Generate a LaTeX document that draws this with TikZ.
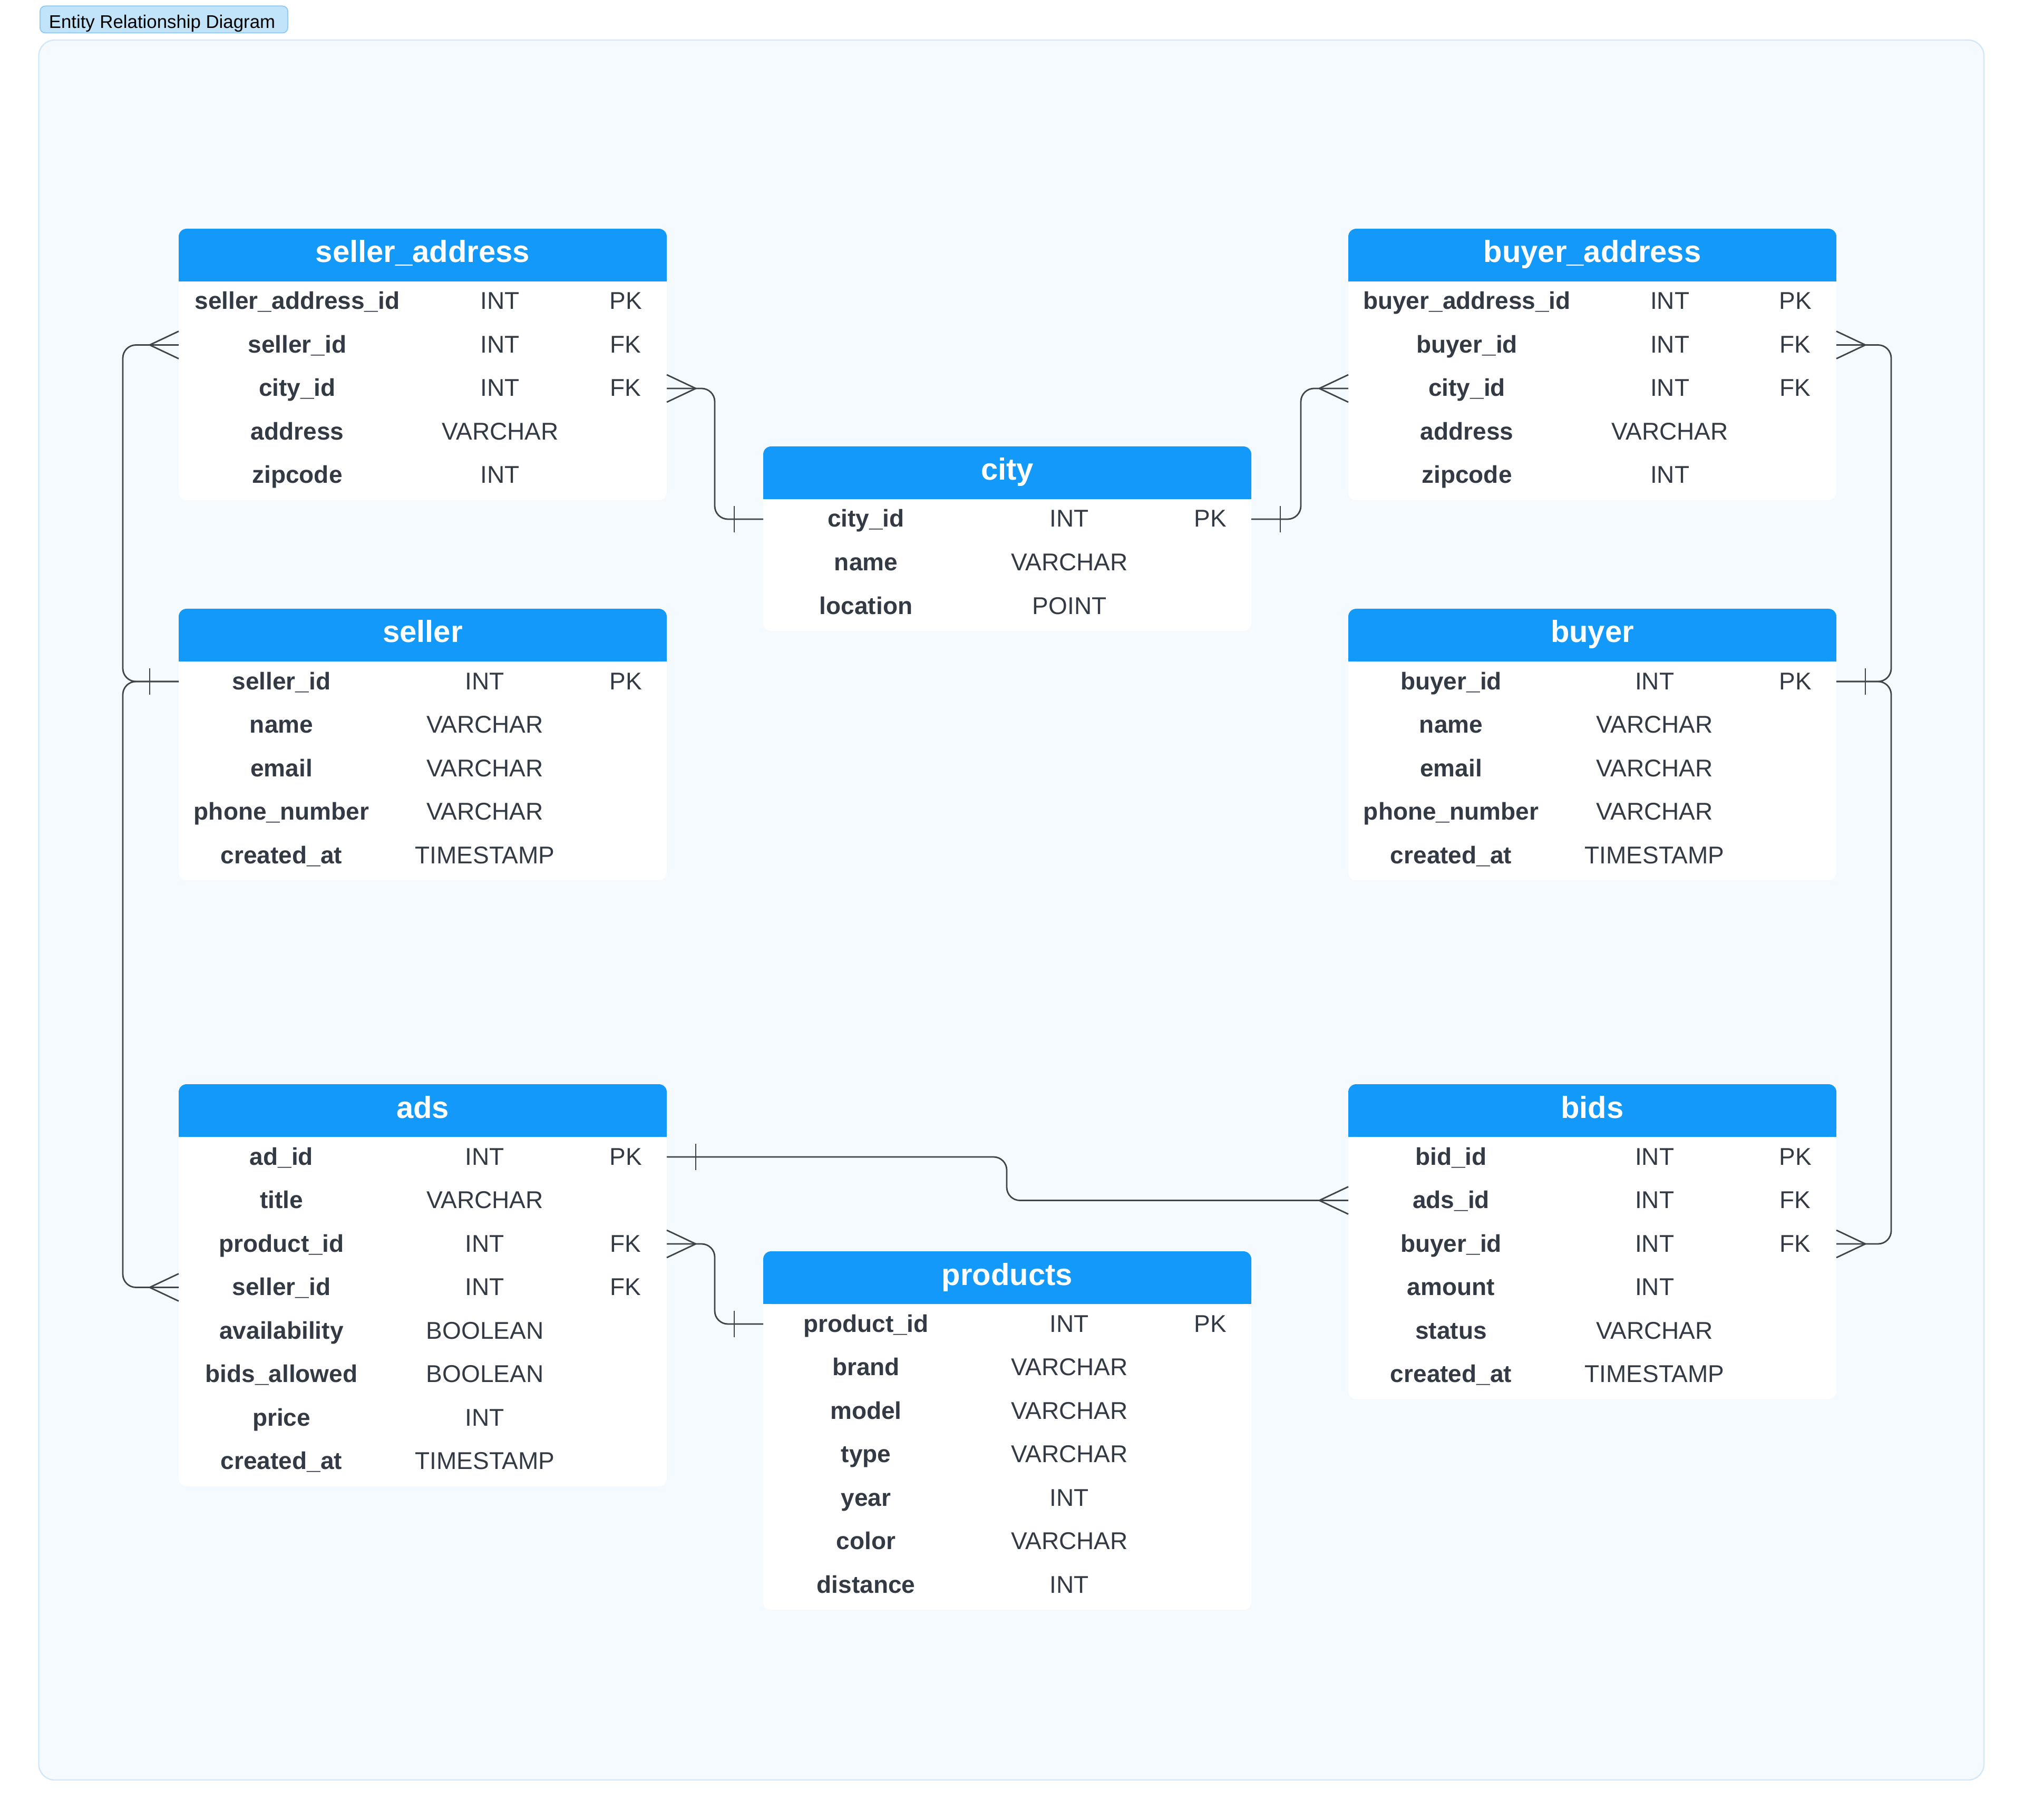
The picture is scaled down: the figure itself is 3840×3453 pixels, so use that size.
\documentclass[tikz,border=0pt]{standalone}
\usepackage{fontspec}
\setmainfont{Liberation Sans}
\usetikzlibrary{calc}
\definecolor{hdrblue}{HTML}{1399F9}
\definecolor{txt}{HTML}{333A44}
\definecolor{conncol}{HTML}{3E444C}
\definecolor{panelfill}{HTML}{F5FAFE}
\definecolor{panelline}{HTML}{D2E7F8}
\definecolor{tagfill}{HTML}{C1E4FB}
\definecolor{tagline}{HTML}{94CCF4}
\tikzset{
  hdrtext/.style={text=white, font=\fontsize{14.5}{17}\selectfont\bfseries, anchor=base, inner sep=0pt},
  rowbox/.style={minimum width=231.5pt, minimum height=20pt, inner sep=0pt, outer sep=0pt, draw=none},
  nametext/.style={text=txt, font=\fontsize{11.5}{13}\selectfont\bfseries, anchor=base, inner sep=0pt},
  typetext/.style={text=txt, font=\fontsize{11.5}{13}\selectfont, anchor=base, inner sep=0pt},
  conn/.style={draw=conncol, line width=0.7pt, line join=round},
  tagtext/.style={text=black, font=\fontsize{8.7}{10}\selectfont, anchor=base west, inner sep=0pt},
}
\newcommand\ERtable[8]{%
  \pgfmathsetmacro\ERbot{#3+138+(#5-1)*82.5+47}
  \fill[white, rounded corners=3.75pt] (#2,#3) rectangle ({#2+926},\ERbot);
  \fill[hdrblue, rounded corners=3.75pt] (#2,#3) rectangle ({#2+926},{#3+100});
  \fill[hdrblue] (#2,{#3+50}) rectangle ({#2+926},{#3+100});
  \node[hdrtext] (#1) at ({#2+463},{#3+64}) {#4};
  \foreach \cn/\cy/\ck [count=\i] in {#8} {
    \pgfmathsetmacro\ERy{#3+138+(\i-1)*82.5}
    \node[rowbox] (#1-\i) at ({#2+463},\ERy) {};
    \node[nametext] (#1-n\i) at ({#2+#6},{\ERy+15}) {\cn};
    \node[typetext] (#1-t\i) at ({#2+#7},{\ERy+15}) {\cy};
    \node[typetext] (#1-k\i) at ({#2+848},{\ERy+15}) {\ck};
  }
}
\newcommand\crowW[1]{\draw[conn] ($(#1)+(0,-26)$) -- ($(#1)+(-55,0)$) -- ($(#1)+(0,26)$);}
\newcommand\crowE[1]{\draw[conn] ($(#1)+(0,-26)$) -- ($(#1)+(55,0)$) -- ($(#1)+(0,26)$);}
\newcommand\barW[1]{\draw[conn] ($(#1)+(-55,-25)$) -- ($(#1)+(-55,25)$);}
\newcommand\barE[1]{\draw[conn] ($(#1)+(55,-25)$) -- ($(#1)+(55,25)$);}
\begin{document}
\begin{tikzpicture}[x=0.25pt,y=-0.25pt]
  \useasboundingbox (0,0) rectangle (3840,3453);
  \fill[white] (0,0) rectangle (3840,3453);
  % title tag
  \draw[fill=tagfill, draw=tagline, line width=0.5pt, rounded corners=2.5pt] (76,11.5) rectangle (546,62.5);
  \node[tagtext] (title) at (92,54) {Entity Relationship Diagram};
  % panel
  \draw[fill=panelfill, draw=panelline, line width=0.6pt, rounded corners=7.5pt] (73.5,76) rectangle (3764,3377);
  % tables
  \ERtable{sa}{339}{434}{seller\_address}{5}{225}{610}{seller\_address\_id/INT/PK, seller\_id/INT/FK, city\_id/INT/FK, address/VARCHAR/{}, zipcode/INT/{}}
  \ERtable{ba}{2558}{434}{buyer\_address}{5}{225}{610}{buyer\_address\_id/INT/PK, buyer\_id/INT/FK, city\_id/INT/FK, address/VARCHAR/{}, zipcode/INT/{}}
  \ERtable{city}{1448}{847}{city}{3}{195}{581}{city\_id/INT/PK, name/VARCHAR/{}, location/POINT/{}}
  \ERtable{sel}{339}{1155}{seller}{5}{195}{581}{seller\_id/INT/PK, name/VARCHAR/{}, email/VARCHAR/{}, phone\_number/VARCHAR/{}, created\_at/TIMESTAMP/{}}
  \ERtable{buy}{2558}{1155}{buyer}{5}{195}{581}{buyer\_id/INT/PK, name/VARCHAR/{}, email/VARCHAR/{}, phone\_number/VARCHAR/{}, created\_at/TIMESTAMP/{}}
  \ERtable{ads}{339}{2057}{ads}{8}{195}{581}{ad\_id/INT/PK, title/VARCHAR/{}, product\_id/INT/FK, seller\_id/INT/FK, availability/BOOLEAN/{}, bids\_allowed/BOOLEAN/{}, price/INT/{}, created\_at/TIMESTAMP/{}}
  \ERtable{bids}{2558}{2057}{bids}{6}{195}{581}{bid\_id/INT/PK, ads\_id/INT/FK, buyer\_id/INT/FK, amount/INT/{}, status/VARCHAR/{}, created\_at/TIMESTAMP/{}}
  \ERtable{prod}{1448}{2374}{products}{7}{195}{581}{product\_id/INT/PK, brand/VARCHAR/{}, model/VARCHAR/{}, type/VARCHAR/{}, year/INT/{}, color/VARCHAR/{}, distance/INT/{}}
  % routing columns
  \coordinate (LX) at (233,0);
  \coordinate (RX) at (3588,0);
  \coordinate (M1) at (1356,0);
  \coordinate (M2) at (2468,0);
  \coordinate (M3) at (1910,0);
  % connectors
  \draw[conn, rounded corners=6.25pt] (sa-2.west) -- (sa-2.west -| LX) -- (sel-1.west -| LX) -- (sel-1.west);
  \crowW{sa-2.west} \barW{sel-1.west}
  \draw[conn, rounded corners=6.25pt] (sel-1.west) -- (sel-1.west -| LX) -- (ads-4.west -| LX) -- (ads-4.west);
  \crowW{ads-4.west}
  \draw[conn, rounded corners=6.25pt] (sa-3.east) -- (sa-3.east -| M1) -- (city-1.west -| M1) -- (city-1.west);
  \crowE{sa-3.east} \barW{city-1.west}
  \draw[conn, rounded corners=6.25pt] (ba-3.west) -- (ba-3.west -| M2) -- (city-1.east -| M2) -- (city-1.east);
  \crowW{ba-3.west} \barE{city-1.east}
  \draw[conn, rounded corners=6.25pt] (ba-2.east) -- (ba-2.east -| RX) -- (buy-1.east -| RX) -- (buy-1.east);
  \crowE{ba-2.east} \barE{buy-1.east}
  \draw[conn, rounded corners=6.25pt] (buy-1.east) -- (buy-1.east -| RX) -- (bids-3.east -| RX) -- (bids-3.east);
  \crowE{bids-3.east}
  \draw[conn, rounded corners=6.25pt] (ads-1.east) -- (ads-1.east -| M3) -- (bids-2.west -| M3) -- (bids-2.west);
  \barE{ads-1.east} \crowW{bids-2.west}
  \draw[conn, rounded corners=6.25pt] (ads-3.east) -- (ads-3.east -| M1) -- (prod-1.west -| M1) -- (prod-1.west);
  \crowE{ads-3.east} \barW{prod-1.west}
\end{tikzpicture}
\end{document}
